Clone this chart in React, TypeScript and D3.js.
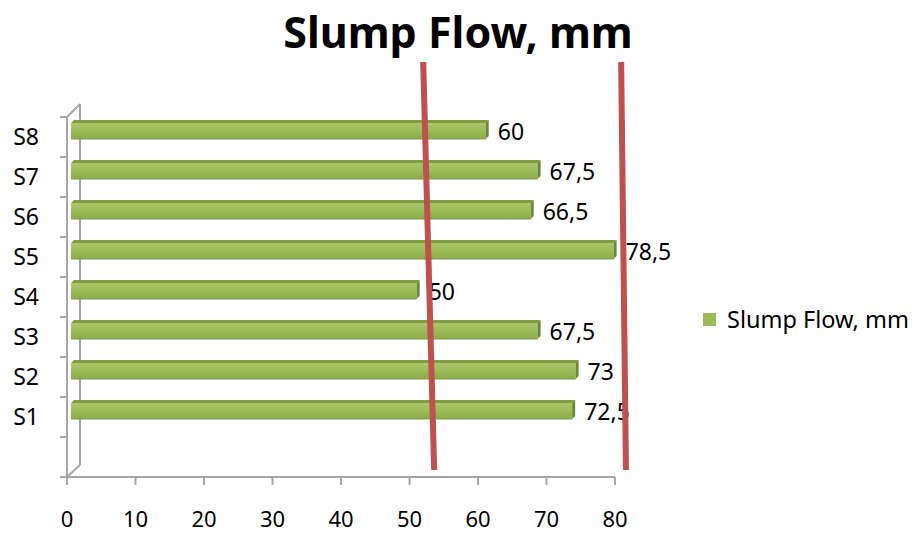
import React from "react";
import * as d3 from "d3";

const categories = ["S1", "S2", "S3", "S4", "S5", "S6", "S7", "S8"];
const values = [72.5, 73, 67.5, 50, 78.5, 66.5, 67.5, 60];
const valueLabels = ["72,5", "73", "67,5", "50", "78,5", "66,5", "67,5", "60"];
const xTicks = [0, 10, 20, 30, 40, 50, 60, 70, 80];
const seriesName = "Slump Flow, mm";
const titleText = "Slump Flow, mm";
// hand-drawn red marker lines, in axis units (top, bottom)
const markerTop = [52.0, 80.9];
const markerBottom = [53.6, 81.6];

const W = 919;
const H = 535;
const FONT = "'Noto Sans', 'Open Sans', sans-serif";

export default function App() {
  const axisX = d3.scaleLinear().domain([0, 80]).range([67, 615]);
  const barX = d3.scaleLinear().domain([0, 80]).range([71, 624]);
  const bandDomain = [...categories].reverse().concat([""]);
  const yBand = d3.scaleBand<string>().domain(bandDomain).range([117, 477]).padding(0);
  const bw = yBand.bandwidth();
  const depth = 3;
  const gray = "#a6a6a6";

  return (
    <svg width={W} height={H} style={{ position: "absolute", left: 0, top: 0 }}>
      <defs>
        <linearGradient id="barGrad" x1="0" y1="0" x2="0" y2="1">
          <stop offset="0" stopColor="#a9c66a" />
          <stop offset="0.5" stopColor="#9bbb59" />
          <stop offset="1" stopColor="#8bab4c" />
        </linearGradient>
      </defs>
      <rect width={W} height={H} fill="#ffffff" />

      {/* title */}
      <text x={458} y={48} textAnchor="middle" fontFamily={FONT} fontWeight="bold" fontSize={43} fill="#000">
        {titleText}
      </text>

      {/* 3D walls / axes */}
      <g stroke={gray} strokeWidth={2} fill="none">
        <line x1={67} y1={117} x2={67} y2={477} />
        <line x1={80} y1={104} x2={80} y2={465} />
        <line x1={67} y1={117} x2={80} y2={104} />
        <line x1={67} y1={477} x2={80} y2={465} />
        <line x1={67} y1={477} x2={axisX(80)} y2={477} />
        {xTicks.map((t) => (
          <line key={"xt" + t} x1={axisX(t)} y1={477} x2={axisX(t)} y2={485} />
        ))}
        {bandDomain.map((c, i) => (
          <line key={"yt" + i} x1={60} y1={yBand(c)!} x2={67} y2={yBand(c)!} />
        ))}
        <line x1={60} y1={477} x2={67} y2={477} />
      </g>

      {/* bars */}
      {categories.map((c, i) => {
        const top = yBand(c)! + 3;
        const bottom = top + 19;
        const x0 = barX(0);
        const x1 = barX(values[i]);
        return (
          <g key={"bar" + c}>
            <polygon
              points={`${x0},${top + depth} ${x0 + depth},${top} ${x1 + depth},${top} ${x1},${top + depth}`}
              fill="#7f9d43"
            />
            <rect x={x0} y={top + depth} width={x1 - x0} height={bottom - top - depth} fill="url(#barGrad)" />
            <polygon
              points={`${x1},${top + depth} ${x1 + depth},${top} ${x1 + depth},${bottom - depth} ${x1},${bottom}`}
              fill="#6b8838"
            />
            <line x1={x0} y1={bottom} x2={x1} y2={bottom} stroke="#7e9c45" strokeWidth={1} />
          </g>
        );
      })}

      {/* data labels */}
      {categories.map((c, i) => (
        <text
          key={"lbl" + c}
          x={barX(values[i]) + 12}
          y={yBand(c)! + 3 + 9.5 + 10}
          fontFamily={FONT}
          fontSize={23}
          fill="#000"
        >
          {valueLabels[i]}
        </text>
      ))}

      {/* category labels */}
      {categories.map((c) => (
        <text
          key={"cat" + c}
          x={39}
          y={yBand(c)! + bw / 2 + 8}
          textAnchor="end"
          fontFamily={FONT}
          fontSize={23}
          fill="#000"
        >
          {c}
        </text>
      ))}

      {/* x tick labels */}
      {xTicks.map((t) => (
        <text
          key={"xl" + t}
          x={axisX(t)}
          y={527}
          textAnchor="middle"
          fontFamily={FONT}
          fontSize={22}
          fill="#000"
        >
          {t}
        </text>
      ))}

      {/* red marker lines */}
      {markerTop.map((v, i) => (
        <line
          key={"red" + i}
          x1={axisX(v)}
          y1={62}
          x2={axisX(markerBottom[i])}
          y2={470}
          stroke="#c0504d"
          strokeWidth={6}
        />
      ))}

      {/* legend */}
      <rect x={703} y={313} width={13} height={13} fill="#9bbb59" />
      <text x={727} y={328} fontFamily={FONT} fontSize={23.5} fill="#000">
        {seriesName}
      </text>
    </svg>
  );
}
